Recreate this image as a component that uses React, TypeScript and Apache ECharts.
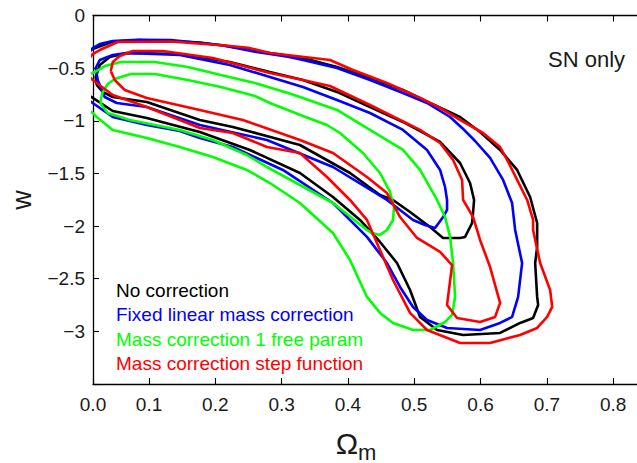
import React, { useEffect, useRef } from "react";
import * as echarts from "echarts";

// Ω_m axis: the frame starts slightly right of 0, its first tick is labelled 0.0
const xMin = 0.0155;
const xMax = 0.836;
const xTickValues = [0.0155, 0.1, 0.2, 0.3, 0.4, 0.5, 0.6, 0.7, 0.8];
const yMin = -3.5;
const yMax = 0;
const yStep = 0.5;

const seriesNames = [
  "No correction",
  "Fixed linear mass correction",
  "Mass correction 1 free param",
  "Mass correction step function",
];
const seriesColors = ["#000000", "#0000ff", "#00ff00", "#ff0000"];

// 68% (inner, closed) and 95% (outer, cut by the left frame) contours in (Ω_m, w)
const noCorrOuter: number[][] = [
  [0.0106, -0.327], [0.0151, -0.318], [0.0453, -0.247], [0.0861, -0.233], [0.1329, -0.242],
  [0.1766, -0.256], [0.2219, -0.294], [0.2672, -0.342], [0.3321, -0.404], [0.3835, -0.489],
  [0.4333, -0.594], [0.4831, -0.708], [0.5238, -0.831], [0.5691, -0.964], [0.5993, -1.106],
  [0.6295, -1.277], [0.6552, -1.467], [0.6748, -1.724], [0.6854, -1.971], [0.6854, -2.199],
  [0.6824, -2.351], [0.6854, -2.673], [0.6869, -2.749], [0.6793, -2.873], [0.6597, -2.92],
  [0.6295, -3.015], [0.5737, -3.034], [0.5344, -2.987], [0.5088, -2.863], [0.4937, -2.607],
  [0.474, -2.351], [0.4484, -2.151], [0.4182, -1.942], [0.3774, -1.724], [0.3276, -1.496],
  [0.2521, -1.277], [0.1766, -1.106], [0.0966, -0.973], [0.0453, -0.907], [0.0151, -0.783],
  [0.0106, -0.764],
];
const noCorrInner: number[][] = [
  [0.0211, -0.66], [0.0196, -0.584], [0.0257, -0.47], [0.0408, -0.394], [0.0664, -0.356],
  [0.1464, -0.366], [0.2219, -0.442], [0.2823, -0.537], [0.3321, -0.613], [0.3835, -0.726],
  [0.4333, -0.869], [0.4831, -1.011], [0.539, -1.201], [0.5691, -1.401], [0.5842, -1.591],
  [0.5903, -1.752], [0.5888, -1.866], [0.5873, -1.971], [0.5767, -2.103], [0.5691, -2.113],
  [0.5435, -2.113], [0.5238, -2.009], [0.4937, -1.866], [0.468, -1.752], [0.4484, -1.705],
  [0.4031, -1.496], [0.3276, -1.23], [0.2264, -1.059], [0.1766, -0.992], [0.0966, -0.821],
  [0.0453, -0.774], [0.0302, -0.726],
];
const fixedOuter: number[][] = [
  [0.0106, -0.347], [0.0151, -0.309], [0.0257, -0.271], [0.0453, -0.242], [0.083, -0.23],
  [0.1329, -0.233], [0.2083, -0.28], [0.2597, -0.344], [0.3095, -0.391], [0.3321, -0.423],
  [0.3835, -0.499], [0.4333, -0.613], [0.4831, -0.736], [0.5193, -0.831], [0.5541, -0.964],
  [0.5722, -1.068], [0.5918, -1.192], [0.6144, -1.353], [0.634, -1.562], [0.6476, -1.781],
  [0.6522, -2.037], [0.6627, -2.351], [0.6567, -2.673], [0.6476, -2.863], [0.6295, -2.92],
  [0.5993, -2.987], [0.5495, -2.968], [0.5193, -2.892], [0.4982, -2.768], [0.4786, -2.578],
  [0.4589, -2.351], [0.4287, -2.103], [0.3774, -1.781], [0.3019, -1.467], [0.2264, -1.249],
  [0.1766, -1.163], [0.1464, -1.097], [0.0966, -1.04], [0.0453, -0.964], [0.0151, -0.831],
  [0.0106, -0.812],
];
const fixedInner: number[][] = [
  [0.0226, -0.613], [0.0196, -0.499], [0.0257, -0.423], [0.0453, -0.375], [0.0664, -0.356],
  [0.1464, -0.375], [0.2219, -0.47], [0.2823, -0.584], [0.3321, -0.679], [0.3835, -0.802],
  [0.4333, -0.926], [0.4831, -1.087], [0.5193, -1.277], [0.539, -1.467], [0.5465, -1.629],
  [0.5495, -1.752], [0.5495, -1.847], [0.5435, -1.914], [0.5314, -2.018], [0.5163, -1.99],
  [0.4982, -1.942], [0.4786, -1.847], [0.4589, -1.752], [0.3774, -1.439], [0.2778, -1.182],
  [0.1766, -1.04], [0.0966, -0.869], [0.0513, -0.831], [0.0332, -0.774],
];
const freeOuter: number[][] = [
  [0.0106, -0.556], [0.0181, -0.537], [0.0332, -0.48], [0.0574, -0.442], [0.1087, -0.442],
  [0.1585, -0.489], [0.2083, -0.565], [0.2597, -0.641], [0.3095, -0.736], [0.3321, -0.783],
  [0.3835, -0.897], [0.4333, -1.087], [0.4831, -1.277], [0.5088, -1.467], [0.5344, -1.752],
  [0.5465, -1.914], [0.5541, -2.103], [0.5586, -2.351], [0.5616, -2.673], [0.5571, -2.844],
  [0.5465, -2.911], [0.5238, -2.987], [0.4982, -2.987], [0.468, -2.92], [0.4484, -2.825],
  [0.4287, -2.673], [0.4031, -2.322], [0.3774, -2.066], [0.3276, -1.781], [0.2823, -1.591],
  [0.2476, -1.467], [0.1963, -1.344], [0.1464, -1.249], [0.0966, -1.163], [0.0453, -1.087],
  [0.0211, -0.964], [0.0151, -0.926], [0.0106, -0.907],
];
const freeInner: number[][] = [
  [0.0272, -0.802], [0.0302, -0.726], [0.0377, -0.651], [0.0483, -0.603], [0.0725, -0.556],
  [0.1087, -0.556], [0.1585, -0.613], [0.2083, -0.679], [0.2597, -0.765], [0.2823, -0.831],
  [0.3321, -0.954], [0.3684, -1.04], [0.388, -1.116], [0.4227, -1.306], [0.4484, -1.496],
  [0.4635, -1.676], [0.4695, -1.819], [0.468, -1.942], [0.4589, -2.037], [0.4484, -2.084],
  [0.4363, -2.066], [0.4287, -2.037], [0.3774, -1.781], [0.2778, -1.439], [0.2476, -1.325],
  [0.1963, -1.182], [0.1464, -1.087], [0.071, -0.992], [0.0377, -0.926], [0.0272, -0.84],
];
const stepOuter: number[][] = [
  [0.0106, -0.404], [0.0151, -0.366], [0.0257, -0.328], [0.0528, -0.252], [0.1329, -0.247],
  [0.2189, -0.287], [0.2491, -0.306], [0.2823, -0.356], [0.3729, -0.423], [0.4076, -0.518],
  [0.4589, -0.641], [0.5088, -0.783], [0.539, -0.878], [0.5691, -0.992], [0.6039, -1.116],
  [0.6295, -1.249], [0.6401, -1.372], [0.6552, -1.562], [0.6703, -1.752], [0.6793, -1.942],
  [0.6793, -2.037], [0.6899, -2.351], [0.705, -2.607], [0.7081, -2.768], [0.7005, -2.863],
  [0.6854, -2.968], [0.6597, -3.034], [0.6144, -3.11], [0.5691, -3.11], [0.5193, -2.987],
  [0.4937, -2.825], [0.468, -2.512], [0.4484, -2.227], [0.4287, -1.942], [0.4031, -1.752],
  [0.3684, -1.534], [0.3276, -1.306], [0.2778, -1.249], [0.2264, -1.116], [0.1766, -1.068],
  [0.1464, -0.992], [0.0966, -0.869], [0.0453, -0.755], [0.0151, -0.613], [0.0106, -0.584],
];
const stepInner: number[][] = [
  [0.0423, -0.527], [0.0453, -0.442], [0.0559, -0.385], [0.0755, -0.337], [0.1208, -0.337],
  [0.1963, -0.404], [0.2823, -0.546], [0.3321, -0.613], [0.3729, -0.67], [0.4333, -0.85],
  [0.5088, -1.087], [0.539, -1.211], [0.5586, -1.372], [0.5722, -1.562], [0.5737, -1.752],
  [0.5888, -1.914], [0.5993, -2.132], [0.6144, -2.389], [0.6295, -2.73], [0.622, -2.863],
  [0.5993, -2.911], [0.5646, -2.873], [0.5495, -2.749], [0.5571, -2.37], [0.539, -2.246],
  [0.5042, -2.113], [0.4786, -1.914], [0.4589, -1.686], [0.4287, -1.534], [0.3774, -1.306],
  [0.3276, -1.182], [0.2415, -0.992], [0.1766, -0.897], [0.0966, -0.783], [0.0634, -0.708],
  [0.0483, -0.613],
];

const contourSets = [
  { inner: noCorrInner, outer: noCorrOuter },
  { inner: fixedInner, outer: fixedOuter },
  { inner: freeInner, outer: freeOuter },
  { inner: stepInner, outer: stepOuter },
];

const FONT = '"Liberation Sans", Arial, Helvetica, sans-serif';

const closeRing = (pts: number[][]) => [...pts, pts[0]];

export default function App() {
  const ref = useRef<HTMLDivElement>(null);

  useEffect(() => {
    if (!ref.current) return;
    const chart = echarts.init(ref.current, undefined, { renderer: "svg" });

    const series: any[] = [];
    contourSets.forEach((set, i) => {
      const base = {
        type: "line",
        name: seriesNames[i],
        showSymbol: false,
        symbol: "none",
        clip: true,
        silent: true,
        lineStyle: { color: seriesColors[i], width: 2.6 },
        itemStyle: { color: seriesColors[i] },
        z: 2 + i,
      };
      series.push({ ...base, id: `${i}-outer`, data: set.outer });
      series.push({ ...base, id: `${i}-inner`, data: closeRing(set.inner) });
    });

    const axisLine = { show: true, onZero: false, lineStyle: { color: "#000", width: 1.3 } };
    const xLabelFmt = (v: number) => (v < 0.05 ? "0.0" : v.toFixed(1));

    const legendTexts = seriesNames.map((name, i) => ({
      type: "text",
      x: 116,
      y: 290 + i * 24.5,
      style: {
        text: name,
        fill: seriesColors[i],
        font: `19px ${FONT}`,
        align: "left",
        verticalAlign: "middle",
        textAlign: "left",
        textVerticalAlign: "middle",
      },
      z: 100,
    }));

    chart.setOption({
      animation: false,
      backgroundColor: "#ffffff",
      grid: { left: 93, top: 15.5, right: 0, bottom: 79, containLabel: false },
      xAxis: [
        {
          type: "value",
          position: "bottom",
          min: xMin,
          max: xMax,
          axisLine,
          axisTick: {
            show: true,
            inside: true,
            length: 6,
            customValues: xTickValues,
            lineStyle: { color: "#000", width: 1.1 },
          },
          axisLabel: {
            customValues: xTickValues,
            formatter: xLabelFmt,
            color: "#1a1a1a",
            fontSize: 19,
            fontFamily: FONT,
            margin: 11,
          },
          splitLine: { show: false },
        },
        {
          type: "value",
          position: "top",
          min: xMin,
          max: xMax,
          axisLine,
          axisTick: {
            show: true,
            inside: true,
            length: 6,
            customValues: xTickValues,
            lineStyle: { color: "#000", width: 1.1 },
          },
          axisLabel: { show: false },
          splitLine: { show: false },
        },
      ],
      yAxis: {
        type: "value",
        min: yMin,
        max: yMax,
        interval: yStep,
        axisLine,
        axisTick: { show: true, inside: true, length: 6, lineStyle: { color: "#000", width: 1.1 } },
        axisLabel: {
          formatter: (v: number) => (v === yMin ? "" : v < 0 ? "\u2212" + String(Math.abs(v)) : String(v)),
          color: "#1a1a1a",
          fontSize: 19,
          fontFamily: FONT,
          margin: 8,
        },
        splitLine: { show: false },
      },
      series,
      graphic: [
        {
          type: "text",
          x: 22,
          y: 200,
          rotation: Math.PI / 2,
          style: {
            text: "w",
            fill: "#1a1a1a",
            font: `27px ${FONT}`,
            align: "center",
            verticalAlign: "middle",
            textAlign: "center",
            textVerticalAlign: "middle",
          },
        },
        {
          type: "text",
          x: 347,
          y: 443,
          style: {
            text: "\u03A9",
            fill: "#1a1a1a",
            font: `30px ${FONT}`,
            align: "center",
            verticalAlign: "middle",
            textAlign: "center",
            textVerticalAlign: "middle",
          },
        },
        {
          type: "text",
          x: 358,
          y: 452,
          style: {
            text: "m",
            fill: "#1a1a1a",
            font: `22px ${FONT}`,
            align: "left",
            verticalAlign: "middle",
            textAlign: "left",
            textVerticalAlign: "middle",
          },
        },
        {
          type: "text",
          x: 548,
          y: 59,
          style: {
            text: "SN only",
            fill: "#1a1a1a",
            font: `22px ${FONT}`,
            align: "left",
            verticalAlign: "middle",
            textAlign: "left",
            textVerticalAlign: "middle",
          },
        },
        ...legendTexts,
      ],
    });

    return () => chart.dispose();
  }, []);

  return (
    <div
      ref={ref}
      style={{ position: "fixed", left: 0, top: 0, width: 637, height: 463, background: "#fff" }}
    />
  );
}
